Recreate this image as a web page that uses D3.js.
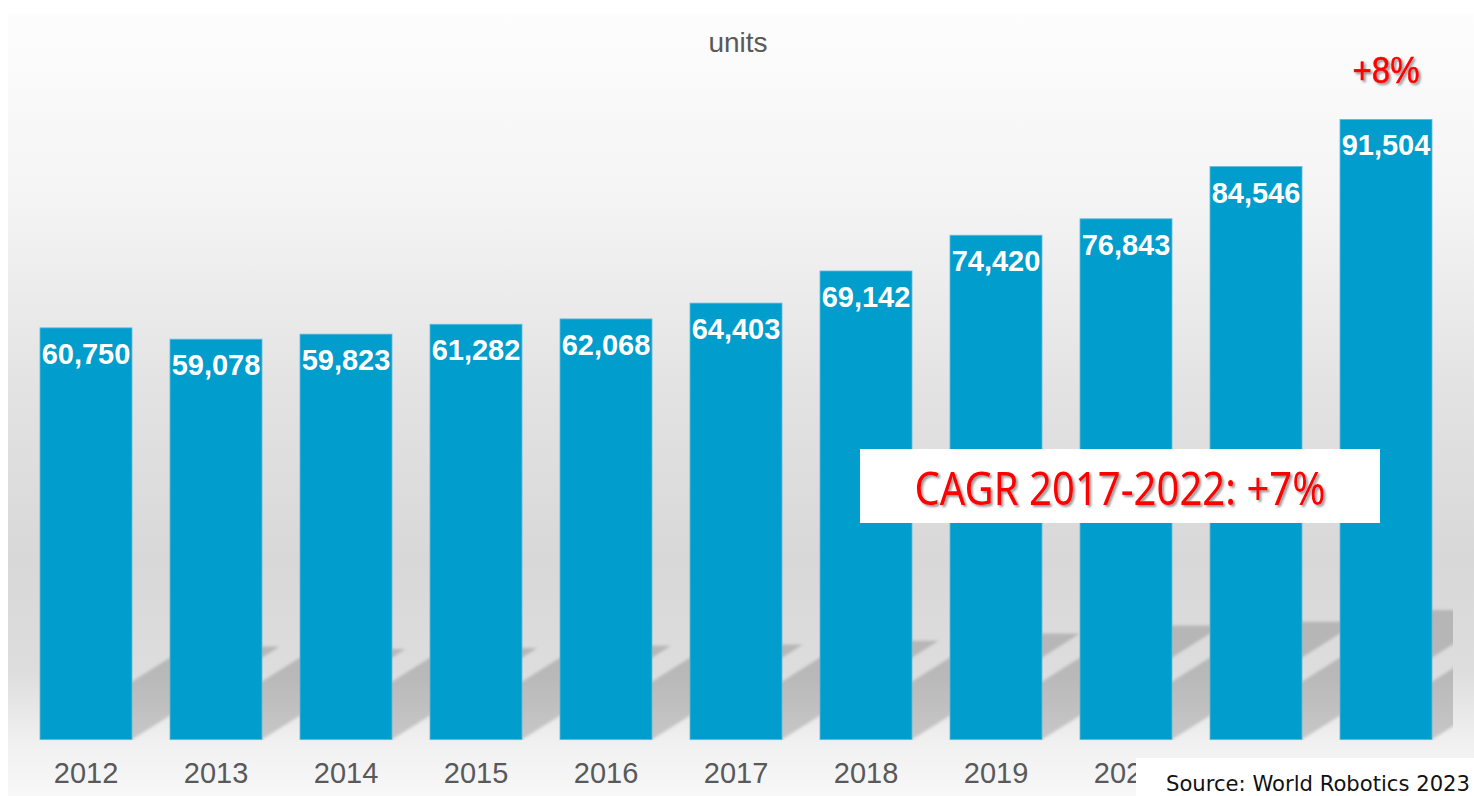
<!DOCTYPE html>
<html>
<head>
<meta charset="utf-8">
<script src="https://cdnjs.cloudflare.com/ajax/libs/d3/7.8.5/d3.min.js"></script>
<style>
    html, body { margin: 0; padding: 0; background: #fff; overflow: hidden; }
    svg { display: block; }
</style>
</head>
<body>
<svg id="robot_chart"></svg>
<script>
var years = ["2012", "2013", "2014", "2015", "2016", "2017", "2018", "2019", "2020", "2021", "2022"];
var installations = [60750, 59078, 59823, 61282, 62068, 64403, 69142, 74420, 76843, 84546, 91504];
var unit_label = "units";
var growth_label = "+8%";
var cagr_label = "CAGR 2017-2022: +7%";
var source_label = "Source: World Robotics 2023";

function render_bar_chart(w, h) {

    var panel = { left: 8, top: 14, right: w, bottom: h };
    var base_y = 739.5;
    var shadow_slope = 0.63;   // rise per px going right
    var shadow_len = 0.226;    // shadow rise as share of bar height
    var source_box = { x: 1136, y: 758 };

    var data = years.map(function (d, i) {
        return { year: d, value: installations[i] };
    });

    var x = d3.scaleBand()
        .domain(years)
        .range([21, 1451])
        .paddingInner(38 / 130)
        .paddingOuter(19 / 130);

    var y = d3.scaleLinear()
        .domain([0, 100000])
        .range([base_y, base_y - 677.6]);

    var svg = d3.select("#robot_chart")
        .attr("width", w)
        .attr("height", h);

    var defs = svg.append("defs");

    // background panel fades white -> grey -> light at the floor
    var bg = defs.append("linearGradient")
        .attr("id", "bg_grad")
        .attr("x1", 0).attr("y1", 0)
        .attr("x2", 0).attr("y2", 1);
    [[0, "#fdfdfd"], [0.24, "#f4f4f4"], [0.49, "#e2e2e2"], [0.70, "#d8d8d8"],
     [0.84, "#dddddd"], [0.93, "#f0f0f0"], [1, "#f8f8f8"]].forEach(function (s) {
        bg.append("stop").attr("offset", s[0]).attr("stop-color", s[1]);
    });

    defs.append("filter")
        .attr("id", "shadow_blur")
        .attr("x", "-10%").attr("y", "-10%")
        .attr("width", "120%").attr("height", "120%")
        .append("feGaussianBlur")
        .attr("stdDeviation", 1.8);

    defs.append("clipPath")
        .attr("id", "floor_clip")
        .append("rect")
        .attr("x", panel.left)
        .attr("y", panel.top)
        .attr("width", 1453 - panel.left)
        .attr("height", base_y + 1 - panel.top);

    // the source box covers the right end of the year axis
    defs.append("clipPath")
        .attr("id", "axis_clip")
        .append("rect")
        .attr("x", 0)
        .attr("y", 0)
        .attr("width", source_box.x)
        .attr("height", h);

    var red_shadow = defs.append("filter")
        .attr("id", "text_shadow")
        .attr("x", "-10%").attr("y", "-20%")
        .attr("width", "130%").attr("height", "150%");
    red_shadow.append("feDropShadow")
        .attr("dx", 2).attr("dy", 2)
        .attr("stdDeviation", 1.2)
        .attr("flood-color", "#444")
        .attr("flood-opacity", 0.55);

    svg.append("rect")
        .attr("x", panel.left)
        .attr("y", panel.top)
        .attr("width", panel.right - panel.left)
        .attr("height", panel.bottom - panel.top)
        .attr("fill", "url(#bg_grad)");

    // slanted floor shadows behind each bar
    svg.append("g")
        .attr("clip-path", "url(#floor_clip)")
        .append("g")
        .attr("filter", "url(#shadow_blur)")
        .selectAll("path")
        .data(data)
        .enter()
        .append("path")
        .attr("d", function (d) {
            var x0 = x(d.year);
            var x1 = x0 + x.bandwidth();
            var rise = (base_y - y(d.value)) * shadow_len;
            var run = rise / shadow_slope;
            return "M" + x0 + "," + base_y +
                "L" + x1 + "," + base_y +
                "L" + (x1 + run) + "," + (base_y - rise) +
                "L" + (x0 + run) + "," + (base_y - rise) + "Z";
        })
        .attr("fill", "#000")
        .attr("fill-opacity", 0.17);

    svg.append("g")
        .selectAll("rect")
        .data(data)
        .enter()
        .append("rect")
        .attr("x", function (d) { return x(d.year); })
        .attr("y", function (d) { return y(d.value); })
        .attr("width", x.bandwidth())
        .attr("height", function (d) { return base_y - y(d.value); })
        .attr("fill", "#009dcd")
        .attr("stroke", "#5cbbe0")
        .attr("stroke-width", 0.8);

    svg.append("g")
        .selectAll("text")
        .data(data)
        .enter()
        .append("text")
        .attr("x", function (d) { return x(d.year) + x.bandwidth() / 2; })
        .attr("y", function (d) { return y(d.value) + 36; })
        .attr("text-anchor", "middle")
        .attr("font-family", "'Liberation Sans', Arial, sans-serif")
        .attr("font-weight", "bold")
        .attr("font-size", "29px")
        .attr("fill", "#fff")
        .text(function (d) { return d3.format(",")(d.value); });

    var x_axis = d3.axisBottom(x)
        .tickSize(0)
        .tickPadding(23);

    var axis_g = svg.append("g")
        .attr("clip-path", "url(#axis_clip)")
        .append("g")
        .attr("class", "x axis")
        .attr("transform", "translate(0," + base_y + ")")
        .call(x_axis);
    axis_g.select(".domain").remove();
    axis_g.selectAll("text")
        .attr("font-family", "'Liberation Sans', Arial, sans-serif")
        .attr("font-size", "29px")
        .attr("fill", "#595959");

    svg.append("text")
        .attr("x", 738)
        .attr("y", 52)
        .attr("text-anchor", "middle")
        .attr("font-family", "'Liberation Sans', Arial, sans-serif")
        .attr("font-size", "28px")
        .attr("fill", "#595959")
        .text(unit_label);

    // growth of the last year over the previous one
    var last = data[data.length - 1];
    svg.append("text")
        .attr("x", x(last.year) + x.bandwidth() / 2)
        .attr("y", 83)
        .attr("text-anchor", "middle")
        .attr("font-family", "'Liberation Sans', Arial, sans-serif")
        .attr("font-size", "37px")
        .attr("textLength", 67)
        .attr("lengthAdjust", "spacingAndGlyphs")
        .attr("fill", "#ff0000")
        .attr("stroke", "#ff0000")
        .attr("stroke-width", 0.6)
        .attr("filter", "url(#text_shadow)")
        .text(growth_label);

    svg.append("rect")
        .attr("x", 860)
        .attr("y", 449)
        .attr("width", 520)
        .attr("height", 74)
        .attr("fill", "#fff");

    svg.append("text")
        .attr("x", 1120)
        .attr("y", 505)
        .attr("text-anchor", "middle")
        .attr("font-family", "'Noto Sans', 'DejaVu Sans', sans-serif")
        .attr("font-size", "45px")
        .attr("textLength", 411)
        .attr("lengthAdjust", "spacingAndGlyphs")
        .attr("fill", "#ff0000")
        .attr("filter", "url(#text_shadow)")
        .text(cagr_label);

    svg.append("rect")
        .attr("x", source_box.x)
        .attr("y", source_box.y)
        .attr("width", w - source_box.x)
        .attr("height", h - source_box.y)
        .attr("fill", "#fff");

    svg.append("text")
        .attr("x", 1166)
        .attr("y", 791)
        .attr("font-family", "'DejaVu Sans', sans-serif")
        .attr("font-size", "20.5px")
        .attr("textLength", 304)
        .attr("lengthAdjust", "spacingAndGlyphs")
        .attr("fill", "#111")
        .text(source_label);
}

render_bar_chart(1474, 796);
</script>
</body>
</html>
